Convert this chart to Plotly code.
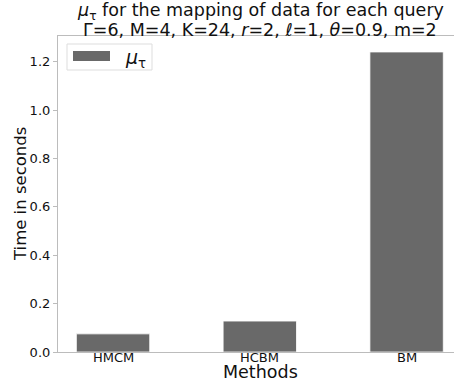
import plotly.graph_objects as go

methods = ["HMCM", "HCBM", "BM"]
mu_tau = [0.075, 0.128, 1.241]
y_ticks = [0.0, 0.2, 0.4, 0.6, 0.8, 1.0, 1.2]

W, H = 454, 383
ML, MR, MT, MB = 58, 0, 36, 31
PW, PH = W - ML - MR, H - MT - MB
FONT = "DejaVu Sans"
AX = "#bcbcbc"
BAR = "#696969"
INK = "#111"


def px_x(p):
    return (p - ML) / PW


def px_y(p):
    return (H - MB - p) / PH


fig = go.Figure()
fig.add_trace(go.Bar(
    x=list(range(len(methods))),
    y=mu_tau,
    width=0.5,
    marker=dict(color=BAR, line=dict(color="white", width=0.8)),
    showlegend=False,
))

annotations = [
    dict(text="<i>μ</i><sub>τ</sub> for the mapping of data for each query",
         x=px_x(260), y=px_y(11.5), xref="paper", yref="paper",
         xanchor="center", yanchor="middle", showarrow=False,
         font=dict(family=FONT, size=17.5, color=INK)),
    dict(text="Γ=6, M=4, K=24, <i>r</i>=2, <i>ℓ</i>=1, <i>θ</i>=0.9, m=2",
         x=px_x(260), y=px_y(30), xref="paper", yref="paper",
         xanchor="center", yanchor="middle", showarrow=False,
         font=dict(family=FONT, size=17.5, color=INK)),
    dict(text="Methods", x=px_x(260), y=px_y(372.5), xref="paper", yref="paper",
         xanchor="center", yanchor="middle", showarrow=False,
         font=dict(family=FONT, size=17.5, color=INK)),
    dict(text="Time in seconds", x=px_x(20), y=px_y(194), xref="paper", yref="paper",
         xanchor="center", yanchor="middle", showarrow=False, textangle=-90,
         font=dict(family=FONT, size=16.5, color=INK)),
    # legend label
    dict(text="<i>μ</i><sub>τ</sub>", x=px_x(123), y=px_y(58), xref="paper", yref="paper",
         xanchor="left", yanchor="middle", showarrow=False,
         font=dict(family=FONT, size=19, color=INK)),
]
# category labels sit right under the axis line
for i, name in enumerate(methods):
    annotations.append(dict(
        text=name, x=i, y=px_y(357.5), xref="x", yref="paper",
        xanchor="center", yanchor="middle", showarrow=False,
        font=dict(family=FONT, size=13, color=INK)))

shapes = [
    # legend frame
    dict(type="rect", xref="paper", yref="paper",
         x0=px_x(67), x1=px_x(152), y0=px_y(70), y1=px_y(44),
         line=dict(color="#dddddd", width=1), fillcolor="rgba(255,255,255,0.9)", layer="above"),
    # legend patch
    dict(type="rect", xref="paper", yref="paper",
         x0=px_x(73), x1=px_x(110), y0=px_y(61), y1=px_y(51),
         line=dict(width=0), fillcolor=BAR, layer="above"),
]

fig.update_layout(
    width=W, height=H,
    margin=dict(l=ML, r=MR, t=MT, b=MB),
    paper_bgcolor="white", plot_bgcolor="white",
    font=dict(family=FONT, color="#222", size=13),
    showlegend=False,
    annotations=annotations,
    shapes=shapes,
)

fig.update_xaxes(
    range=[-0.375, 2.323],
    tickmode="array", tickvals=list(range(len(methods))),
    showticklabels=False,
    showgrid=False, zeroline=False,
    showline=True, linecolor=AX, linewidth=1.2, mirror=True,
    ticks="",
)
fig.update_yaxes(
    range=[0, 1.307],
    tickmode="array", tickvals=y_ticks, ticktext=[f"{v:.1f}" for v in y_ticks],
    showgrid=False, zeroline=False,
    showline=True, linecolor=AX, linewidth=1.2,
    ticks="outside", ticklen=4, tickcolor=AX,
    tickfont=dict(family=FONT, size=13, color=INK),
)

fig.write_html("out.html")
